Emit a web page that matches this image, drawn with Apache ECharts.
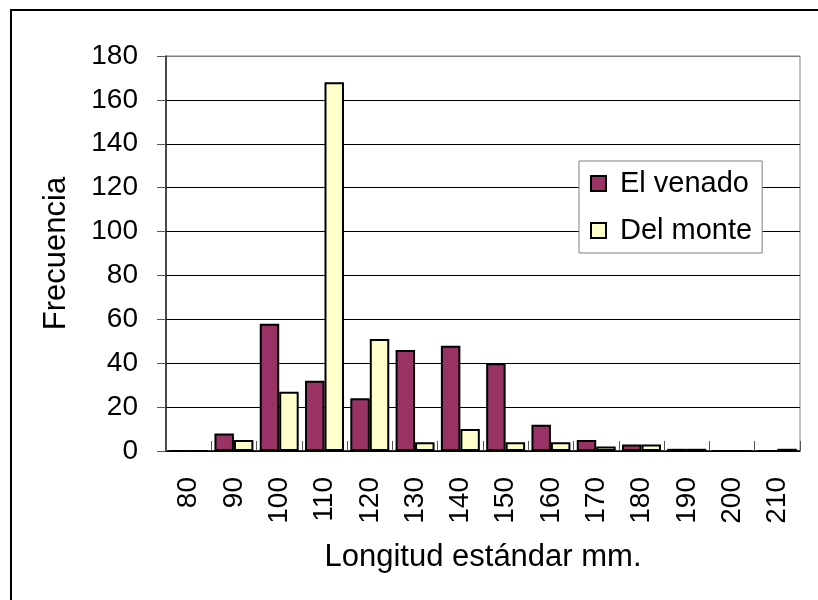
<!DOCTYPE html>
<html>
<head>
<meta charset="utf-8">
<script src="https://cdn.jsdelivr.net/npm/echarts@6/dist/echarts.min.js"></script>
<style>html,body{margin:0;padding:0;background:#fff;}#c{width:818px;height:600px;}</style>
</head>
<body>
<div id="c"></div>
<script>
var categories = ['80','90','100','110','120','130','140','150','160','170','180','190','200','210'];
var elVenado = [0, 8, 58, 32, 24, 46, 48, 40, 12, 5, 3, 1, 0, 0];
var delMonte = [0, 5, 27, 168, 51, 4, 10, 4, 4, 2, 3, 1, 0, 1];
var yTicks = [0, 20, 40, 60, 80, 100, 120, 140, 160, 180];

var FONT = '"Liberation Sans", Arial, sans-serif';
var chart = echarts.init(document.getElementById('c'), null, {renderer: 'canvas'});
var splitColors = yTicks.map(function (v, i) { return i === yTicks.length - 1 ? '#808080' : '#000'; });

chart.setOption({
  animation: false,
  backgroundColor: '#fff',
  textStyle: {fontFamily: FONT, color: '#000'},
  graphic: [{
    type: 'rect', z: 100, silent: true,
    shape: {x: 11, y: 10, width: 1000, height: 1000},
    style: {fill: 'none', stroke: '#000', lineWidth: 2}
  }],
  grid: {left: 166, right: 18, top: 56, bottom: 149, show: true, borderColor: '#808080', borderWidth: 1, backgroundColor: '#fff'},
  legend: {
    orient: 'vertical', left: 579, top: 161,
    backgroundColor: '#fff', borderColor: '#808080', borderWidth: 1,
    padding: [8, 10, 8, 11],
    itemWidth: 15, itemHeight: 15, itemGap: 18,
    icon: 'rect',
    textStyle: {fontSize: 29, fontFamily: FONT, color: '#000', padding: [0, 0, 0, 9]},
    data: ['El venado', 'Del monte']
  },
  xAxis: {
    type: 'category', data: categories, boundaryGap: true,
    name: 'Longitud estándar mm.', nameLocation: 'middle', nameGap: 91,
    nameTextStyle: {fontSize: 31, fontFamily: FONT, color: '#000'},
    axisLine: {lineStyle: {color: '#000', width: 1.5}},
    axisTick: {show: true, inside: true, length: 10, lineStyle: {color: '#555', width: 1}},
    axisLabel: {rotate: 90, margin: 26, fontSize: 28, fontFamily: FONT, color: '#000', interval: 0},
    splitLine: {show: false}
  },
  yAxis: {
    type: 'value', min: 0, max: 180, interval: 20,
    name: 'Frecuencia', nameLocation: 'middle', nameGap: 94, nameRotate: 90,
    nameTextStyle: {fontSize: 31, fontFamily: FONT, color: '#000'},
    axisLine: {show: true, lineStyle: {color: '#222', width: 1.5}},
    axisTick: {show: true, length: 9, lineStyle: {color: '#555', width: 1}},
    axisLabel: {margin: 28, fontSize: 28, fontFamily: FONT, color: '#000'},
    splitLine: {show: true, lineStyle: {color: splitColors, width: 1}}
  },
  series: [{
    name: 'El venado', type: 'bar', data: elVenado,
    barGap: '0%', barCategoryGap: '14%',
    itemStyle: {color: '#993366', borderColor: '#000', borderWidth: 2}
  }, {
    name: 'Del monte', type: 'bar', data: delMonte,
    barGap: '0%', barCategoryGap: '14%',
    itemStyle: {color: '#FFFFCC', borderColor: '#000', borderWidth: 2}
  }]
});
</script>
</body>
</html>
